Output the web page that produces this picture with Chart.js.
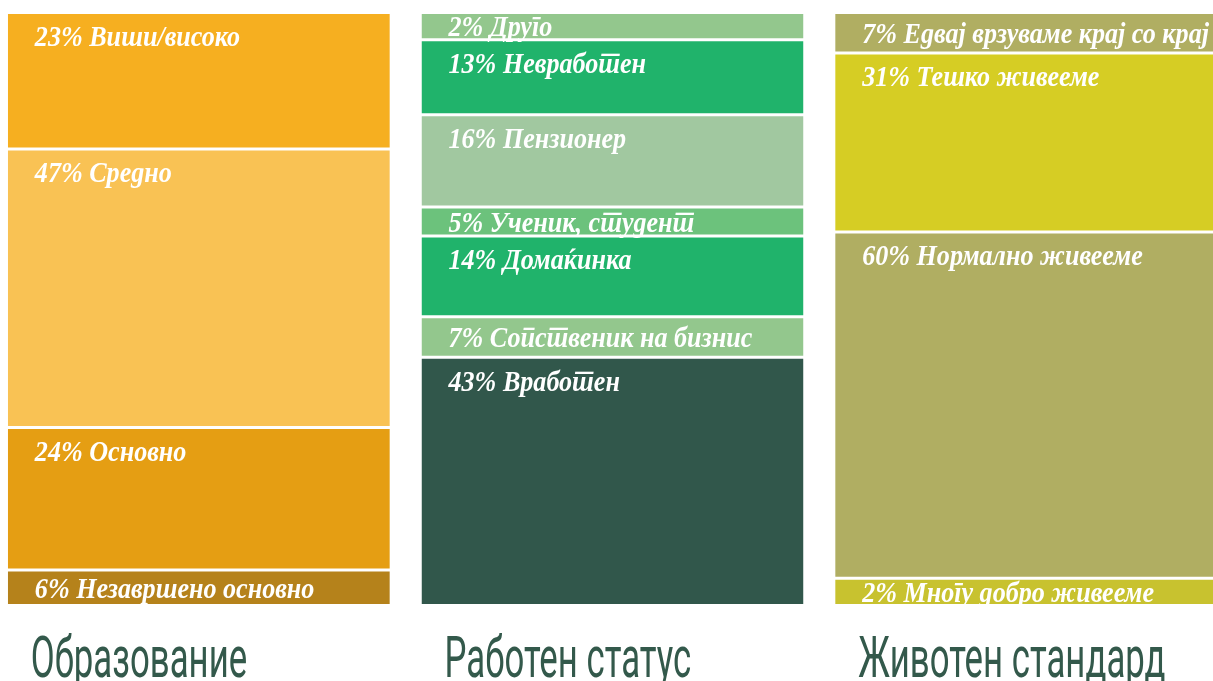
<!DOCTYPE html>
<html lang="mk">
<head>
<meta charset="utf-8">
<script src="https://cdn.jsdelivr.net/npm/chart.js@4"></script>
<style>
html,body{margin:0;padding:0;background:#fff;overflow:hidden;width:1213px;height:681px;position:relative}
canvas{position:absolute;left:-8px;top:0}
</style>
</head>
<body>
<canvas id="c" width="1241" height="681" lang="mk"></canvas>
<script>
// ---- data ----
const categories = ['Образование', 'Работен статус', 'Животен стандард'];

const eduLabels = ['Виши/високо', 'Средно', 'Основно', 'Незавршено основно'];
const eduValues = [23, 47, 24, 6];
const eduColors = ['#F6AF20', '#F9C254', '#E59E13', '#B5821B'];

const workLabels = ['Друго', 'Невработен', 'Пензионер', 'Ученик, студент', 'Домаќинка', 'Сопственик на бизнис', 'Вработен'];
const workValues = [2, 13, 16, 5, 14, 7, 43];
const workColors = ['#93C78D', '#20B36B', '#A1C8A0', '#6CC27C', '#20B36B', '#93C78D', '#31574B'];

const lifeLabels = ['Едвај врзуваме крај со крај', 'Тешко живееме', 'Нормално живееме', 'Многу добро живееме'];
const lifeValues = [7, 31, 60, 2];
const lifeColors = ['#B0AE62', '#D6CD24', '#B0AE62', '#C8C22F'];

// minimum visible share so that small segments can hold their label (as in the original design)
const MIN_SHARE = 4.7;
function displayShares(vals) {
  const adj = vals.map(v => Math.max(v, MIN_SHARE));
  const s = adj.reduce((a, b) => a + b, 0);
  return adj.map(v => v * 100 / s);
}

const groups = [
  { labels: eduLabels, values: eduValues, colors: eduColors },
  { labels: workLabels, values: workValues, colors: workColors },
  { labels: lifeLabels, values: lifeValues, colors: lifeColors }
];
const maxSeg = Math.max(...groups.map(g => g.values.length));
const datasets = [];
for (let k = 0; k < maxSeg; k++) {
  datasets.push({
    data: groups.map(g => k < g.values.length ? displayShares(g.values)[k] : null),
    backgroundColor: groups.map(g => g.colors[k] || '#ffffff'),
    segLabel: groups.map(g => k < g.values.length ? g.values[k] + '% ' + g.labels[k] : null),
    borderColor: '#ffffff',
    borderWidth: { top: 1.5, bottom: 1.5, left: 0, right: 0 },
    borderSkipped: false,
    categoryPercentage: 1,
    barPercentage: 0.9234
  });
}

const labelPlugin = {
  id: 'segLabels',
  afterDatasetsDraw(chart) {
    const ctx = chart.ctx;
    ctx.save();
    ctx.fillStyle = '#ffffff';
    ctx.textBaseline = 'alphabetic';
    ctx.textAlign = 'left';
    ctx.font = 'italic bold 29px "Liberation Serif"';
    chart.data.datasets.forEach((ds, di) => {
      const meta = chart.getDatasetMeta(di);
      meta.data.forEach((bar, i) => {
        const txt = ds.segLabel[i];
        if (!txt) return;
        const top = Math.min(bar.y, bar.base) + 1.5;
        const bottom = Math.max(bar.y, bar.base) - 1.5;
        const left = bar.x - bar.width / 2;
        const cy = Math.min(top + 22, (top + bottom) / 2);
        ctx.save();
        ctx.translate(left + 27, cy + 10);
        ctx.scale(0.9, 1);
        ctx.fillText(txt, 0, 0);
        ctx.restore();
      });
    });
    // category titles
    ctx.fillStyle = '#33594B';
    ctx.font = '400 58px Roboto';
    const meta0 = chart.getDatasetMeta(0);
    chart.data.labels.forEach((lab, i) => {
      const bar = meta0.data[i];
      const left = bar.x - bar.width / 2;
      ctx.save();
      ctx.translate(left + 23, 677);
      ctx.scale(0.6, 1);
      ctx.fillText(lab, 0, 0);
      ctx.restore();
    });
    ctx.restore();
  }
};

new Chart(document.getElementById('c'), {
  type: 'bar',
  data: { labels: categories, datasets: datasets },
  options: {
    responsive: false,
    animation: false,
    layout: { padding: { top: 12.5, bottom: 75.5, left: 0, right: 0 } },
    plugins: { legend: { display: false }, tooltip: { enabled: false } },
    scales: {
      x: { stacked: true, display: false },
      y: { stacked: true, display: false, reverse: true, min: 0, max: 100 }
    }
  },
  plugins: [labelPlugin]
});
</script>
</body>
</html>
